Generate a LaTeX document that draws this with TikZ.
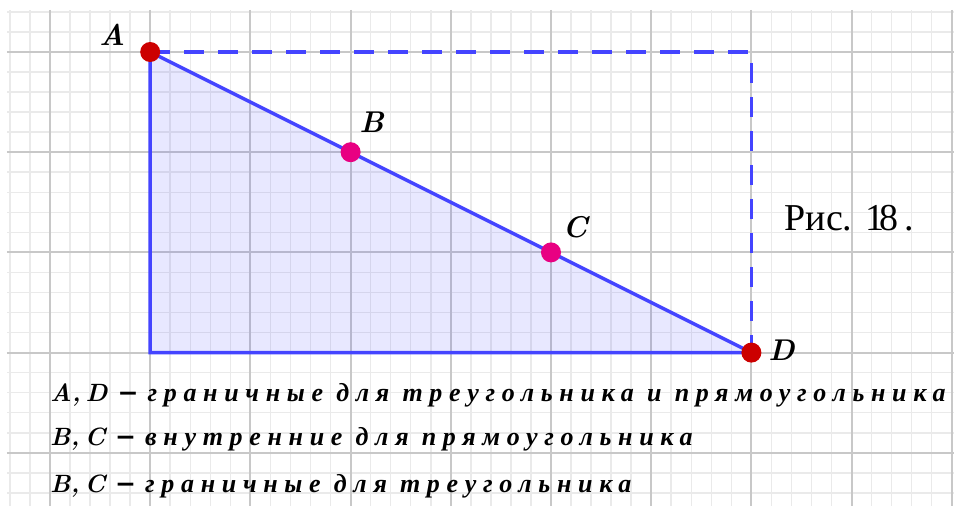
\documentclass[tikz,border=0pt]{standalone}
\usepackage{fontspec}
\newfontfamily\cyrsp[LetterSpace=25.7]{Liberation Serif}
\newfontfamily\cyrfont{Liberation Serif}
\newfontfamily\dashfont{DejaVu Sans}
\definecolor{gridmajor}{RGB}{200,200,200}
\definecolor{gridminor}{RGB}{234,234,234}
\definecolor{segblue}{RGB}{68,68,255}
\definecolor{ptred}{RGB}{204,0,0}
\definecolor{ptmag}{RGB}{232,0,130}
\newcommand{\mydash}{\hspace{10pt}{\dashfont\bfseries −}\hspace{9pt}}
\tikzset{
  ptA/.style={circle,fill=ptred,inner sep=0pt,minimum size=20pt},
  ptB/.style={circle,fill=ptmag,inner sep=0pt,minimum size=20pt},
  seg/.style={draw=segblue,line width=3.5pt},
  dseg/.style={draw=segblue,line width=3.5pt,dash pattern=on 20pt off 14pt},
  lbl/.style={font=\fontsize{30}{30}\selectfont\bfseries\itshape,inner sep=0pt},
  txt/.style={anchor=base west,inner sep=0pt,font=\fontsize{25}{25}\selectfont}
}
\begin{document}
\begin{tikzpicture}[x=100.2pt,y=-100.2pt]
\useasboundingbox (-0.499,-0.519) rectangle (9.032,4.531);
\begin{scope}
\clip (-0.43,-0.42) rectangle (9.02,4.531);
\foreach \i in {-0.4,-0.2,...,4.45}{\draw[gridminor,line width=1.5pt] (-0.43,\i) -- (9.02,\i);}
\foreach \i in {-0.4,-0.2,...,9.05}{\draw[gridminor,line width=1.5pt] (\i,-0.42) -- (\i,4.531);}
\foreach \i in {0,...,4}{\draw[gridmajor,line width=2pt] (-0.43,\i) -- (9.02,\i);}
\foreach \i in {0,...,9}{\draw[gridmajor,line width=2pt] (\i,-0.42) -- (\i,4.531);}
\end{scope}
\coordinate (Ap) at (1,0);
\coordinate (E) at (1,3);
\coordinate (F) at (7,0);
\coordinate (Dp) at (7,3);
\fill[segblue,fill opacity=0.12] (Ap) -- (E) -- (Dp) -- cycle;
\draw[dseg] (Ap) -- (F) -- (Dp);
\draw[seg] (Ap) -- (E) -- (Dp) -- cycle;
\node[ptA] (A) at (Ap) {};
\node[ptB] (B) at (3,1) {};
\node[ptB] (C) at (5,2) {};
\node[ptA] (D) at (Dp) {};
\node[lbl] (lA) at (0.62,-0.17) {A};
\node[lbl] (lB) at (3.21,0.7) {B};
\node[lbl] (lC) at (5.24,1.75) {C};
\node[lbl] (lD) at (7.3,2.98) {D};
\node[anchor=base west,inner sep=0pt,font=\cyrfont\fontsize{38}{38}\selectfont] (cap) at (7.33,1.78) {Рис. 1\kern-0.12em 8\,.};
\node[txt] (t1) at (0,3.49) {{\bfseries\itshape A,\hspace{5pt}D}\mydash{\cyrsp\fontsize{26}{26}\selectfont\bfseries\itshape граничные для треугольника и прямоугольника}};
\node[txt] (t2) at (0,3.93) {{\bfseries\itshape B,\hspace{5pt}C}\mydash{\cyrsp\fontsize{26}{26}\selectfont\bfseries\itshape внутренние для прямоугольника}};
\node[txt] (t3) at (0,4.40) {{\bfseries\itshape B,\hspace{5pt}C}\mydash{\cyrsp\fontsize{26}{26}\selectfont\bfseries\itshape граничные для треугольника}};
\end{tikzpicture}
\end{document}
